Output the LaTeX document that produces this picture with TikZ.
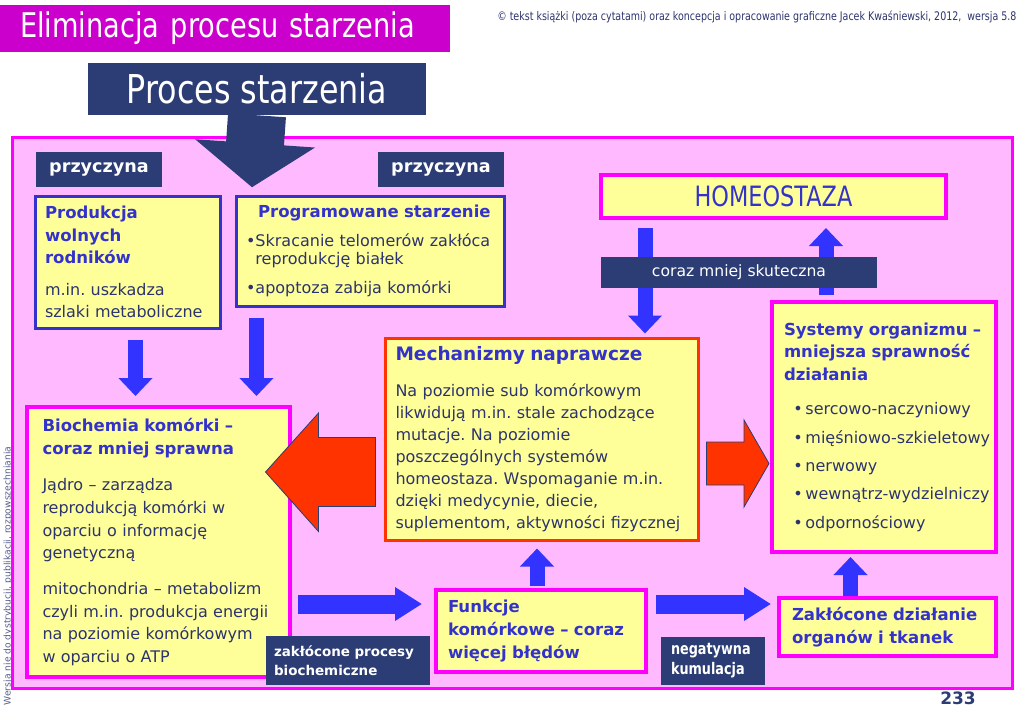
\documentclass[tikz,border=0pt]{standalone}
\usepackage{fontspec}
\setmainfont{DejaVu Sans}
\newfontfamily\narrowfont{DejaVu Sans}[FakeStretch=0.8]
\usepackage{xcolor}
\usetikzlibrary{arrows.meta,calc}
\frenchspacing

\definecolor{slidepink}{RGB}{255,185,255}
\definecolor{framemagenta}{RGB}{255,0,255}
\definecolor{titlemagenta}{RGB}{204,0,204}
\definecolor{labelnavy}{RGB}{44,60,116}
\definecolor{boxyellow}{RGB}{255,255,153}
\definecolor{headblue}{RGB}{51,51,204}
\definecolor{bodynavy}{RGB}{44,52,110}
\definecolor{arrowblue}{RGB}{51,51,255}
\definecolor{arrowred}{RGB}{255,51,0}
\definecolor{notegrey}{RGB}{85,95,140}

\newcommand\boxbody{\fontsize{12}{16.9}\selectfont}
\newcommand\boxhead{\fontsize{12.4}{17}\selectfont\bfseries\color{headblue}}

\tikzset{
  slide/.style = {
    fill=slidepink,
    draw=framemagenta,
    line width=2.25pt
  },
  infobox/.style = {
    draw,
    fill=boxyellow,
    line width=2.25pt,
    align=left,
    inner ysep=0pt,
    text=bodynavy,
    font=\boxbody
  },
  pinkframe/.style = {
    infobox,
    draw=framemagenta,
    line width=3pt
  },
  blueframe/.style = {
    infobox,
    draw=headblue
  },
  redframe/.style = {
    infobox,
    draw=arrowred
  },
  labelbox/.style = {
    fill=labelnavy,
    text=white,
    inner ysep=0pt
  },
  boxsize/.style 2 args = {
    minimum width=#1,
    minimum height=#2
  },
  downarrow/.style = {
    draw=arrowblue,
    line width=11.25pt,
    -{Triangle[width=24.75pt,length=13.5pt]}
  },
  sidearrow/.style = {
    draw=arrowblue,
    line width=14.25pt,
    -{Triangle[width=24pt,length=20.25pt]}
  },
  fatarrow/.style = {
    fill=arrowred,
    draw=labelnavy,
    line width=0.6pt,
    line join=miter
  },
}

\begin{document}
\begin{tikzpicture}[x=0.75pt,y=-0.75pt]
  \useasboundingbox (0,0) rectangle (1024,722);

  % heading and credits
  \node[fill=titlemagenta, text=white, font=\narrowfont\fontsize{25.5}{28}\selectfont,
        boxsize={337.5pt}{35.25pt}, text width=307.5pt, inner xsep=15pt, inner ysep=0pt]
    (slidetitle) at (225,28.5) {Eliminacja procesu starzenia};
  \node[anchor=west, inner sep=0pt, text=bodynavy, font=\narrowfont\fontsize{8.9}{10}\selectfont]
    (credits) at (497,17) {© tekst książki (poza cytatami) oraz koncepcja i opracowanie graficzne Jacek Kwaśniewski, 2012,\ \ wersja 5.8};
  \node[rotate=90, inner sep=0pt, text=notegrey, font=\fontsize{6.9}{8}\selectfont]
    (draftnote) at (8,576) {Wersja nie do dystrybucji, publikacji, rozpowszechniania};

  \draw[slide] (12,137) rectangle (1012,688);

  \node[labelbox, font=\narrowfont\fontsize{29.8}{32}\selectfont, boxsize={253.5pt}{39pt}]
    (aging) at (257,89) {Proces starzenia};
  \coordinate (agingtip) at ($(aging.south)+(-5,72)$);
  \draw[draw=labelnavy, line width=43.5pt, -{Triangle[width=88.5pt,length=33pt]}]
    (aging.south) -- (agingtip);

  \foreach \labelname/\labelx in {
    causeleft/99,
    causeright/441
  } {
    \node[labelbox, font=\fontsize{13.2}{15}\selectfont\bfseries, boxsize={94.5pt}{26.25pt}]
      (\labelname) at (\labelx,169.5) {przyczyna};
  }

  % causes
  \node[blueframe, boxsize={138.75pt}{99pt}, text width=123.75pt, inner xsep=7.5pt]
    (prod) at (127.5,262)
    {{\boxhead Produkcja\\wolnych\\rodników}\\[6.4pt]
     m.in. uszkadza\\szlaki metaboliczne};
  \node[blueframe, boxsize={201pt}{82.5pt}, text width=186pt, inner xsep=7.5pt,
        font=\fontsize{12}{13.5}\selectfont]
    (prog) at (370,251)
    {{\boxhead\hspace*{9pt}Programowane starzenie}\\[8.25pt]
     •Skracanie telomerów zakłóca\\\phantom{•}reprodukcję białek\\[8.25pt]
     •apoptoza zabija komórki};

  % cell level
  \node[pinkframe, boxsize={197.25pt}{202.5pt}, text width=174pt, inner xsep=11.625pt,
        font=\fontsize{12}{17}\selectfont]
    (bio) at (158.5,542)
    {{\boxhead Biochemia komórki –\\coraz mniej sprawna}\\[10.5pt]
     Jądro – zarządza\\reprodukcją komórki w\\oparciu o informację\\genetyczną\\[9.75pt]
     mitochondria – metabolizm\\czyli m.in. produkcja energii\\na poziomie komórkowym\\w oparciu o ATP};
  \node[redframe, boxsize={234.75pt}{151.5pt}, text width=219pt, inner xsep=7.875pt,
        font=\fontsize{12}{16.5}\selectfont]
    (mech) at (541.5,439)
    {{\boxhead\fontsize{13.9}{17}\selectfont Mechanizmy naprawcze}\\[10.5pt]
     Na poziomie sub komórkowym\\likwidują m.in. stale zachodzące\\mutacje. Na poziomie\\poszczególnych systemów\\homeostaza. Wspomaganie m.in.\\dzięki medycynie, diecie,\\suplementom, aktywności fizycznej};
  \node[pinkframe, boxsize={157.5pt}{61.5pt}, text width=139.5pt, inner xsep=9pt,
        font=\fontsize{12}{17.25}\selectfont]
    (funk) at (541,631)
    {\boxhead Funkcje\\komórkowe – coraz\\więcej błędów};

  % organism level
  \node[pinkframe, boxsize={258.75pt}{32.25pt}, align=center, text=headblue,
        font=\narrowfont\fontsize{21}{24}\selectfont]
    (homeo) at (773.5,196.5) {HOMEOSTAZA};
  \node[pinkframe, boxsize={168pt}{187.5pt}, text width=150pt, inner xsep=9pt,
        font=\fontsize{12}{17.25}\selectfont]
    (sys) at (884,427)
    {{\boxhead Systemy organizmu –\\mniejsza sprawność\\działania}\\[8.25pt]
     \hspace*{7pt}\mbox{•\,sercowo-naczyniowy}\\[4pt]
     \hspace*{7pt}\mbox{•\,mięśniowo-szkieletowy}\\[4pt]
     \hspace*{7pt}\mbox{•\,nerwowy}\\[4pt]
     \hspace*{7pt}\mbox{•\,wewnątrz-wydzielniczy}\\[4pt]
     \hspace*{7pt}\mbox{•\,odpornościowy}};
  \node[pinkframe, boxsize={162.75pt}{43.5pt}, text width=143.25pt, inner xsep=9.75pt,
        font=\fontsize{12}{17.25}\selectfont]
    (zakl) at (887.5,627)
    {\boxhead Zakłócone działanie\\organów i tkanek};

  % blue connectors
  \draw[downarrow] ($(prod.south)+(8,10)$) -- ($(prod.south |- bio.north)+(8,-9)$);
  \draw[downarrow] ($(prog.south west)+(22,10)$) -- ($(prog.south west |- bio.north)+(22,-9)$);
  \draw[downarrow] ($(homeo.south west)+(46,8)$) -- ($(homeo.south west |- mech.north)+(46,-3)$);
  \draw[downarrow] ($(sys.north)+(-58,-5)$) -- ($(sys.north |- homeo.south)+(-58,8)$);
  \draw[downarrow] ($(funk.north)+(-4,-2)$) -- ($(funk.north |- mech.south)+(-4,7)$);
  \draw[downarrow] ($(zakl.north)+(-37,0)$) -- ($(zakl.north |- sys.south)+(-37,3)$);
  \draw[sidearrow] ($(bio.east |- funk.north west)+(6,16)$) -- ($(funk.north west)+(-12,16)$);
  \draw[sidearrow] ($(funk.north east)+(8,16)$) -- ($(zakl.north west |- funk.north east)+(-6,16)$);

  % arrow captions
  \node[labelbox, font=\fontsize{11.7}{14}\selectfont, boxsize={207pt}{23.25pt}]
    (weaker) at (739,272.5) {coraz mniej skuteczna};
  \node[labelbox, align=left, boxsize={123pt}{36.75pt}, text width=111pt, inner xsep=6pt,
        font=\fontsize{10.1}{14.25}\selectfont\bfseries]
    (disturbed) at (348,660.5) {zakłócone procesy\\biochemiczne};
  \node[labelbox, align=left, boxsize={78pt}{36pt}, text width=63pt, inner xsep=7.5pt,
        font=\narrowfont\fontsize{12}{15}\selectfont\bfseries]
    (negcum) at (713,661) {negatywna\\kumulacja};

  \node[text=labelnavy, font=\fontsize{12.75}{14}\selectfont\bfseries]
    (pagenum) at (958,698) {233};

  % red block arrows
  \coordinate (redleft) at ($(mech.west)+(-8,33)$);
  \coordinate (redright) at ($(mech.east)+(7,24.5)$);
  \draw[fatarrow] (redleft) ++(0,-34.5) -- ++(-57,0) -- ++(0,-24.5) -- ++(-53,59)
    -- ++(53,59.5) -- ++(0,-25) -- ++(57,0) -- cycle;
  \draw[fatarrow] (redright) ++(0,-21.5) -- ++(37.5,0) -- ++(0,-22) -- ++(25,43.5)
    -- ++(-25,43.5) -- ++(0,-22) -- ++(-37.5,0) -- cycle;

\end{tikzpicture}
\end{document}
